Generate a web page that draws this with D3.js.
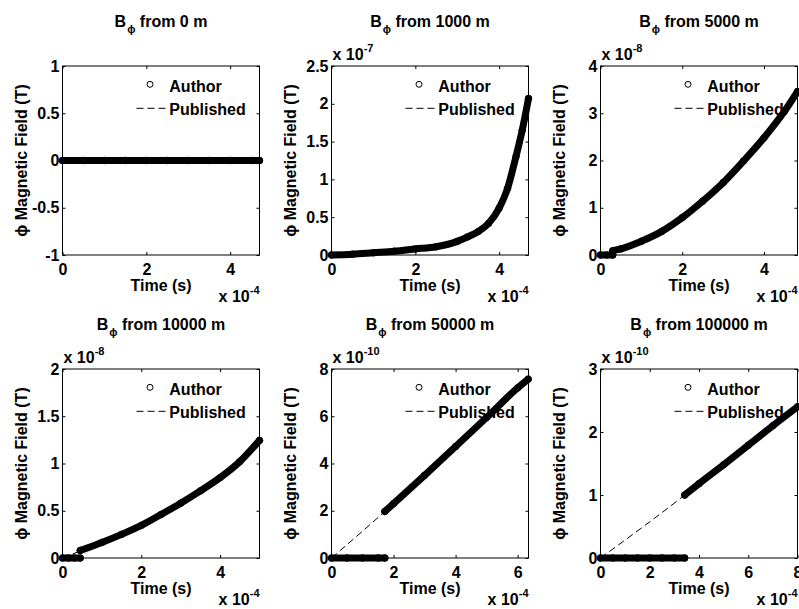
<!DOCTYPE html>
<html><head><meta charset="utf-8">
<script src="https://cdn.jsdelivr.net/npm/d3@7"></script>
<style>body{margin:0;background:#fff}svg{display:block}</style>
</head><body><svg id="c" width="799" height="609"></svg>
<script>
// ---- data (time in units of 1e-4 s, field in units of 10^yExp T) ----
const distances = ["0", "1000", "5000", "10000", "50000", "100000"];
const xMax = [4.7, 4.7, 4.82, 5.0, 6.35, 8.0];
const xTicks = [[0,2,4],[0,2,4],[0,2,4],[0,2,4],[0,2,4,6],[0,2,4,6,8]];
const yDomains = [[-1,1],[0,2.5],[0,4],[0,2],[0,8],[0,3]];
const yTicks = [[-1,-0.5,0,0.5,1],[0,0.5,1,1.5,2,2.5],[0,1,2,3,4],[0,0.5,1,1.5,2],[0,2,4,6,8],[0,1,2,3]];
const yExp = [null, -7, -8, -8, -10, -10];
const xExp = -4;

// Author (null = gap in the series)
const authorT1 = [0,0.5,1,1.5,2,2.5,3,3.5,4,4.5,4.7];
const authorB1 = [0,0,0,0,0,0,0,0,0,0,0];
const authorT2 = [0,0.5,1,1.5,2,2.5,3,3.25,3.5,3.75,4,4.2,4.4,4.55,4.7];
const authorB2 = [0,0.01,0.03,0.05,0.08,0.11,0.18,0.24,0.31,0.42,0.62,0.88,1.3,1.65,2.07];
const authorT3 = [0,0.15,0.3,0.3,0.3,0.5,1,1.5,2,2.5,3,3.5,4,4.5,4.82];
const authorB3 = [0,0,0,null,0.09,0.13,0.29,0.5,0.79,1.14,1.53,1.99,2.48,3.04,3.46];
const authorT4 = [0,0.15,0.3,0.45,0.45,0.45,1,1.5,2,2.5,3,3.5,4,4.5,5];
const authorB4 = [0,0,0,0,null,0.08,0.165,0.25,0.345,0.46,0.58,0.71,0.85,1.02,1.245];
const authorT5 = [0,0.5,1,1.5,1.72,1.72,1.72,2,3,4,5,6,6.34];
const authorB5 = [0,0,0,0,0,null,1.97,2.3,3.5,4.72,5.95,7.2,7.57];
const authorT6 = [0,0.5,1,1.5,2,2.5,3,3.42,3.42,3.42,4,5,6,7,8];
const authorB6 = [0,0,0,0,0,0,0,0,null,1.0,1.18,1.48,1.79,2.1,2.4];

// Published
const pubT1 = [0,4.7];
const pubB1 = [0,0];
const pubT2 = [0,0.5,1,1.5,2,2.5,3,3.25,3.5,3.75,4,4.2,4.4,4.55,4.7];
const pubB2 = [0,0.01,0.03,0.05,0.08,0.11,0.18,0.24,0.31,0.42,0.62,0.88,1.3,1.65,2.07];
const pubT3 = [0,0.5,1,1.5,2,2.5,3,3.5,4,4.5,4.82];
const pubB3 = [0,0.13,0.29,0.5,0.79,1.14,1.53,1.99,2.48,3.04,3.46];
const pubT4 = [0,1,1.5,2,2.5,3,3.5,4,4.5,5];
const pubB4 = [0,0.165,0.25,0.345,0.46,0.58,0.71,0.85,1.02,1.245];
const pubT5 = [0,1.72,2,3,4,5,6,6.34];
const pubB5 = [0,1.97,2.3,3.5,4.72,5.95,7.2,7.57];
const pubT6 = [0,3.42,4,5,6,7,8];
const pubB6 = [0,1.0,1.18,1.48,1.79,2.1,2.4];

const authorT = [authorT1,authorT2,authorT3,authorT4,authorT5,authorT6];
const authorB = [authorB1,authorB2,authorB3,authorB4,authorB5,authorB6];
const pubT = [pubT1,pubT2,pubT3,pubT4,pubT5,pubT6];
const pubB = [pubB1,pubB2,pubB3,pubB4,pubB5,pubB6];

// ---- layout ----
const colLeft = [62.5, 331.5, 600.5];
const rowTop = [66, 369];
const W = 197, H = 189;
const FONT = "'Liberation Sans', Arial, Helvetica, 'DejaVu Sans', sans-serif";

const svg = d3.select("#c");
svg.append("rect").attr("width", 799).attr("height", 609).attr("fill", "#fff");

distances.forEach((dist, i) => {
  const left = colLeft[i % 3], top = rowTop[Math.floor(i / 3)];
  const g = svg.append("g").attr("transform", `translate(${left},${top})`)
    .style("font-family", FONT).style("font-weight", "bold");
  const x = d3.scaleLinear().domain([0, xMax[i]]).range([0, W]);
  const y = d3.scaleLinear().domain(yDomains[i]).range([H, 0]);

  // box
  g.append("rect").attr("width", W).attr("height", H)
    .attr("fill", "none").attr("stroke", "#000").attr("stroke-width", 1);

  const fmt = d => String(d);
  const styleAxis = sel => {
    sel.select(".domain").remove();
    sel.selectAll("line").attr("stroke", "#000");
    sel.selectAll("text").attr("fill", "#000").style("font-size", "16px")
      .style("font-family", FONT).style("font-weight", "bold");
  };
  g.append("g").attr("transform", `translate(0,${H})`)
    .call(d3.axisBottom(x).tickValues(xTicks[i]).tickFormat(fmt).tickSizeInner(-3).tickSizeOuter(0).tickPadding(8.5))
    .call(styleAxis);
  g.append("g")
    .call(d3.axisTop(x).tickValues(xTicks[i]).tickFormat("").tickSizeInner(-3).tickSizeOuter(0))
    .call(styleAxis);
  g.append("g")
    .call(d3.axisLeft(y).tickValues(yTicks[i]).tickFormat(fmt).tickSizeInner(-3).tickSizeOuter(0).tickPadding(3))
    .call(styleAxis);
  g.append("g").attr("transform", `translate(${W},0)`)
    .call(d3.axisRight(y).tickValues(yTicks[i]).tickFormat("").tickSizeInner(-3).tickSizeOuter(0))
    .call(styleAxis);

  // title
  const t = g.append("text").attr("x", W / 2).attr("y", -39.5).attr("text-anchor", "middle")
    .style("font-size", "16px").attr("fill", "#000");
  t.append("tspan").text("B");
  t.append("tspan").text("ϕ").style("font-size", "11px").attr("dy", 6).attr("dx", 1);
  t.append("tspan").text(` from ${dist} m`).attr("dy", -6);

  // axis labels
  g.append("text").attr("x", W / 2).attr("y", H + 36).attr("text-anchor", "middle")
    .style("font-size", "16px").text("Time (s)");
  g.append("text").attr("transform", `translate(-36,${H / 2}) rotate(-90)`).attr("text-anchor", "middle")
    .style("font-size", "16px").text("ϕ Magnetic Field (T)");

  // exponent labels
  const xe = g.append("text").attr("x", W).attr("y", H + 47).attr("text-anchor", "end").style("font-size", "16px");
  xe.append("tspan").text("x 10");
  xe.append("tspan").text(String(xExp)).style("font-size", "11px").attr("dy", -8);
  if (yExp[i] !== null) {
    const ye = g.append("text").attr("x", 1).attr("y", -6).style("font-size", "16px");
    ye.append("tspan").text("x 10");
    ye.append("tspan").text(String(yExp[i])).style("font-size", "11px").attr("dy", -8);
  }

  // legend
  g.append("circle").attr("cx", 87.5).attr("cy", 18.3).attr("r", 3)
    .attr("fill", "none").attr("stroke", "#000").attr("stroke-width", 1);
  g.append("text").attr("x", 106.8).attr("y", 25.5).style("font-size", "16px").text("Author");
  g.append("line").attr("x1", 74).attr("x2", 104).attr("y1", 42.3).attr("y2", 42.3)
    .attr("stroke", "#000").attr("stroke-width", 1).attr("stroke-dasharray", "7,4");
  g.append("text").attr("x", 106.8).attr("y", 49).style("font-size", "16px").text("Published");

  // published (dashed)
  const pubData = pubT[i].map((tv, k) => ({t: tv, b: pubB[i][k]}));
  g.append("path").datum(pubData)
    .attr("d", d3.line().x(d => x(d.t)).y(d => y(d.b)).curve(d3.curveMonotoneX))
    .attr("fill", "none").attr("stroke", "#000").attr("stroke-width", 1).attr("stroke-dasharray", "7,4");

  // author (dense open circle markers -> band)
  const aData = authorT[i].map((tv, k) => ({t: tv, b: authorB[i][k]}));
  g.append("path").datum(aData)
    .attr("d", d3.line().defined(d => d.b !== null).x(d => x(d.t)).y(d => y(d.b)).curve(d3.curveMonotoneX))
    .attr("fill", "none").attr("stroke", "#000").attr("stroke-width", 7)
    .attr("stroke-linecap", "round").attr("stroke-linejoin", "round");
  g.selectAll("circle.a").data(aData.filter(d => d.b !== null)).join("circle")
    .attr("class", "a").attr("cx", d => x(d.t)).attr("cy", d => y(d.b)).attr("r", 3.3)
    .attr("fill", "none").attr("stroke", "#000").attr("stroke-width", 1);
});
</script>
</body></html>
